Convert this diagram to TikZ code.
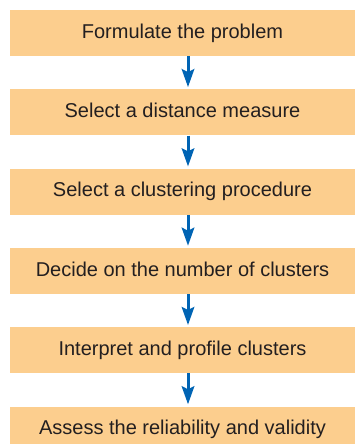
\documentclass[tikz,border=0pt]{standalone}
\usepackage{fontspec}
\setmainfont{Liberation Sans}
\usetikzlibrary{arrows.meta}
\definecolor{stagefill}{RGB}{252,206,142}
\definecolor{stagearrow}{RGB}{0,100,180}
\definecolor{stagetext}{RGB}{35,31,32}
\begin{document}
\begin{tikzpicture}[x=1pt,y=-1pt,
    stagebox/.style={fill=stagefill,minimum width=345pt,minimum height=46pt,inner sep=0pt,
      text=stagetext,text height=14.6pt,text depth=4.2pt,font=\fontsize{20}{24}\selectfont},
    flow/.style={-{Stealth[length=18pt,width=12.5pt,inset=3pt]},draw=stagearrow,line width=3pt,shorten >=2pt}]
  \useasboundingbox (0,0) rectangle (358,444);
  \node[stagebox] (s1) at (182.5,33)   {Formulate the problem};
  \node[stagebox] (s2) at (182.5,112.3) {Select a distance measure};
  \node[stagebox] (s3) at (182.5,191.6) {Select a clustering procedure};
  \node[stagebox] (s4) at (182.5,270.9) {Decide on the number of clusters};
  \node[stagebox] (s5) at (182.5,350.2) {Interpret and profile clusters};
  \node[stagebox] (s6) at (182.5,429.5) {Assess the reliability and validity};
  \draw[flow] ([xshift=5.5pt]s1.south) -- ([xshift=5.5pt]s2.north);
  \draw[flow] ([xshift=5.5pt]s2.south) -- ([xshift=5.5pt]s3.north);
  \draw[flow] ([xshift=5.5pt]s3.south) -- ([xshift=5.5pt]s4.north);
  \draw[flow] ([xshift=5.5pt]s4.south) -- ([xshift=5.5pt]s5.north);
  \draw[flow] ([xshift=5.5pt]s5.south) -- ([xshift=5.5pt]s6.north);
\end{tikzpicture}
\end{document}
